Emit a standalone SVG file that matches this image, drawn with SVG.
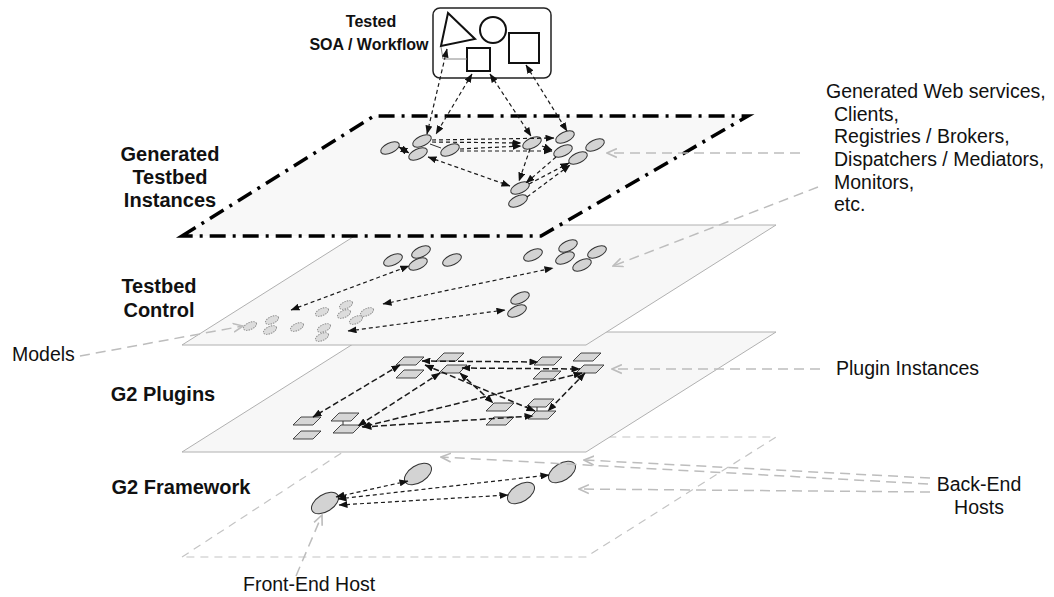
<svg xmlns="http://www.w3.org/2000/svg" xmlns:xlink="http://www.w3.org/1999/xlink" width="1054" height="597" viewBox="0 0 1054 597">
<style>
text{font-family:"Liberation Sans",Arial,sans-serif;fill:#111}
.lb{font-size:20px;font-weight:bold;text-anchor:middle}
.lt{font-size:16px;font-weight:bold;text-anchor:middle}
.tx{font-size:19.5px}
.cn{fill:none;stroke:#1a1a1a;stroke-width:1.2;stroke-dasharray:4,3;marker-start:url(#ab);marker-end:url(#ab)}
.cn1{fill:none;stroke:#1a1a1a;stroke-width:1.2;stroke-dasharray:4,3;marker-end:url(#ab)}
.cp{fill:none;stroke:#1a1a1a;stroke-width:1.5;stroke-dasharray:6,3;marker-start:url(#ab);marker-end:url(#ab)}
.gr{fill:none;stroke:#bdbdbd;stroke-width:1.5;stroke-dasharray:10,6;marker-end:url(#ag)}
.en{fill:#d3d3d3;stroke:#333;stroke-width:1}
.md{fill:#dcdcdc;stroke:#888;stroke-width:0.9;stroke-dasharray:1.5,1}
.pl{fill:#d6d6d6;stroke:#333;stroke-width:0.9}
.sh{fill:none;stroke:#111;stroke-width:2}
</style>
<defs>
<marker id="ab" viewBox="0 0 9 7" refX="8.5" refY="3.5" markerWidth="9" markerHeight="7" markerUnits="userSpaceOnUse" orient="auto-start-reverse"><path d="M0,0 L9,3.5 L0,7 z" fill="#111"/></marker>
<marker id="ag" viewBox="0 0 10 10" refX="9" refY="5" markerWidth="11" markerHeight="11" markerUnits="userSpaceOnUse" orient="auto"><path d="M0,1 L9,5 L0,9" fill="none" stroke="#bdbdbd" stroke-width="1.5"/></marker>
<ellipse id="e1" rx="10" ry="5" transform="rotate(-25)" class="en"/>
<ellipse id="e2" rx="7" ry="3.5" transform="rotate(-25)" class="md"/>
<ellipse id="e4" rx="15" ry="8.5" transform="rotate(-32)" class="en"/>
<polygon id="pp" points="-6,-4 14,-4 6,4 -14,4" class="pl"/>
</defs>

<!-- Layer 4: G2 Framework -->
<g id="layer-framework">
<polygon points="182,557 366,437 776,437 586,557" fill="#fff" stroke="#c4c4c4" stroke-width="1.2" stroke-dasharray="8,6"/>
<text class="lb" x="181" y="494">G2 Framework</text>
</g>
<g id="fw-frontend"><use xlink:href="#e4" x="325" y="503"/></g>
<g id="fw-back1"><use xlink:href="#e4" x="418" y="474"/></g>
<g id="fw-back2"><use xlink:href="#e4" x="562" y="472"/></g>
<g id="fw-back3"><use xlink:href="#e4" x="521" y="493"/></g>

<!-- Layer 3: G2 Plugins -->
<g id="layer-plugins">
<polygon points="182,452 372,332 776,332 586,452" fill="#f7f7f7" stroke="#b0b0b0" stroke-width="1"/>
<text class="lb" x="163" y="401">G2 Plugins</text>
</g>
<g id="pl1"><use xlink:href="#pp" x="410" y="361"/></g>
<g id="pl2"><use xlink:href="#pp" x="450" y="357"/></g>
<g id="pl3"><use xlink:href="#pp" x="410" y="374"/></g>
<g id="pl4"><use xlink:href="#pp" x="453" y="369"/></g>
<g id="pl5"><use xlink:href="#pp" x="548" y="361"/></g>
<g id="pl6"><use xlink:href="#pp" x="587" y="357"/></g>
<g id="pl7"><use xlink:href="#pp" x="547" y="375"/></g>
<g id="pl8"><use xlink:href="#pp" x="590" y="369"/></g>
<g id="pl9"><use xlink:href="#pp" x="500" y="407"/></g>
<g id="pl10"><use xlink:href="#pp" x="540" y="403"/><line x1="537" y1="407" x2="537" y2="411" stroke="#333" stroke-width="1"/></g>
<g id="pl11"><use xlink:href="#pp" x="542" y="415"/></g>
<g id="pl12"><use xlink:href="#pp" x="500" y="421"/></g>
<g id="pl13"><use xlink:href="#pp" x="307" y="421"/></g>
<g id="pl14"><use xlink:href="#pp" x="307" y="435"/></g>
<g id="pl15"><use xlink:href="#pp" x="345" y="417"/><line x1="343" y1="421" x2="343" y2="425" stroke="#333" stroke-width="1"/></g>
<g id="pl16"><use xlink:href="#pp" x="347" y="429"/></g>

<!-- Layer 2: Testbed Control -->
<g id="layer-control">
<polygon points="182,345 372,225 776,225 586,345" fill="#f7f7f7" stroke="#b0b0b0" stroke-width="1"/>
<text class="lb" x="159" y="293">Testbed</text>
<text class="lb" x="159" y="317">Control</text>
</g>
<g id="m1"><use xlink:href="#e2" x="250" y="326"/></g>
<g id="m2"><use xlink:href="#e2" x="272" y="320"/></g>
<g id="m3"><use xlink:href="#e2" x="270" y="330"/></g>
<g id="m4"><use xlink:href="#e2" x="297" y="327"/></g>
<g id="m5"><use xlink:href="#e2" x="322" y="312"/></g>
<g id="m6"><use xlink:href="#e2" x="346" y="305"/></g>
<g id="m7"><use xlink:href="#e2" x="344" y="314"/></g>
<g id="m8"><use xlink:href="#e2" x="356" y="320"/></g>
<g id="m9"><use xlink:href="#e2" x="367" y="312"/></g>
<g id="m10"><use xlink:href="#e2" x="324" y="328"/></g>
<g id="m11"><use xlink:href="#e2" x="322" y="337"/></g>
<g id="c1"><use xlink:href="#e1" x="393" y="260"/></g>
<g id="c2"><use xlink:href="#e1" x="421" y="252"/></g>
<g id="c3"><use xlink:href="#e1" x="418" y="264"/></g>
<g id="c4"><use xlink:href="#e1" x="452" y="260"/></g>
<g id="c5"><use xlink:href="#e1" x="533" y="255"/></g>
<g id="c6"><use xlink:href="#e1" x="568" y="246"/></g>
<g id="c7"><use xlink:href="#e1" x="565" y="258"/></g>
<g id="c8"><use xlink:href="#e1" x="597" y="252"/></g>
<g id="c9"><use xlink:href="#e1" x="582" y="265"/></g>
<g id="c10"><use xlink:href="#e1" x="520" y="298"/></g>
<g id="c11"><use xlink:href="#e1" x="517" y="311"/></g>

<!-- Layer 1: Generated Testbed Instances -->
<g id="layer-generated">
<polygon points="182,236 374,116 748,116 541,236" fill="#f8f8f8" stroke="#000" stroke-width="3.5" stroke-dasharray="16,7,3,7"/>
<text class="lb" x="170" y="161">Generated</text>
<text class="lb" x="170" y="184">Testbed</text>
<text class="lb" x="170" y="207">Instances</text>
</g>
<g id="g-a"><use xlink:href="#e1" x="390" y="148"/></g>
<g id="g-b"><use xlink:href="#e1" x="422" y="141"/></g>
<g id="g-c"><use xlink:href="#e1" x="418" y="154"/></g>
<g id="g-d"><use xlink:href="#e1" x="450" y="150"/></g>
<g id="g-e"><use xlink:href="#e1" x="532" y="143"/></g>
<g id="g-f"><use xlink:href="#e1" x="565" y="137"/></g>
<g id="g-g"><use xlink:href="#e1" x="563" y="151"/></g>
<g id="g-h"><use xlink:href="#e1" x="595" y="145"/></g>
<g id="g-i"><use xlink:href="#e1" x="578" y="158"/></g>
<g id="g-j"><use xlink:href="#e1" x="520" y="188"/></g>
<g id="g-k"><use xlink:href="#e1" x="518" y="201"/></g>

<!-- Tested SOA / Workflow -->
<g id="soa">
<rect x="433" y="8" width="118" height="70" rx="7" fill="#fff" stroke="#222" stroke-width="1.5"/>
<polygon class="sh" points="448,13 475,39 441,46"/>
<circle class="sh" cx="493" cy="30" r="13"/>
<rect class="sh" x="467" y="48" width="23" height="23"/>
<rect class="sh" x="509" y="33" width="30" height="30"/>
<polyline points="441,47 443,59 467,59" fill="none" stroke="#888" stroke-width="1"/>
<text class="lt" x="371" y="27">Tested</text>
<text class="lt" x="369" y="50">SOA / Workflow</text>
</g>

<!-- Connectors -->
<g id="connectors">
<line class="cn" x1="447" y1="49" x2="427" y2="134"/>
<line class="cn" x1="472" y1="74" x2="436" y2="134"/>
<line class="cn" x1="490" y1="74" x2="531" y2="136"/>
<line class="cn" x1="526" y1="65" x2="567" y2="131"/>
<line class="cn" x1="399" y1="147" x2="409" y2="153"/>
<line x1="430" y1="144" x2="441" y2="148" stroke="#333" stroke-width="1"/>
<line class="cn1" x1="432" y1="140" x2="554" y2="138"/>
<line class="cn1" x1="432" y1="142" x2="521" y2="143"/>
<line class="cn1" x1="460" y1="149" x2="521" y2="146"/>
<line class="cn1" x1="460" y1="151" x2="552" y2="151"/>
<line class="cn1" x1="542" y1="146" x2="552" y2="150"/>
<line class="cn" x1="428" y1="157" x2="510" y2="186"/>
<line class="cn1" x1="530" y1="149" x2="519" y2="181"/>
<line class="cn1" x1="556" y1="157" x2="526" y2="183"/>
<line class="cn1" x1="529" y1="184" x2="569" y2="163"/>
<line class="cn1" x1="527" y1="197" x2="570" y2="165"/>
<line class="cn" x1="291" y1="310" x2="409" y2="266"/>
<line class="cn" x1="383" y1="304" x2="553" y2="268"/>
<line class="cn" x1="348" y1="331" x2="505" y2="310"/>
<line class="cp" x1="422" y1="361" x2="538" y2="362"/>
<line class="cp" x1="462" y1="368" x2="580" y2="369"/>
<line class="cp" x1="400" y1="365" x2="313" y2="417"/>
<line class="cp" x1="440" y1="373" x2="358" y2="426"/>
<line class="cp" x1="582" y1="373" x2="362" y2="427"/>
<line class="cp" x1="425" y1="365" x2="535" y2="411"/>
<line class="cp" x1="460" y1="373" x2="493" y2="403"/>
<line class="cp" x1="363" y1="427" x2="533" y2="416"/>
<line class="cp" x1="585" y1="373" x2="548" y2="411"/>
<line class="cn" x1="336" y1="497" x2="408" y2="481"/>
<line class="cn" x1="338" y1="499" x2="549" y2="475"/>
<line class="cn" x1="339" y1="505" x2="508" y2="495"/>
<line class="gr" x1="800" y1="153" x2="607" y2="153"/>
<line class="gr" x1="818" y1="187" x2="613" y2="266"/>
<line class="gr" x1="80" y1="356" x2="243" y2="326"/>
<line class="gr" x1="820" y1="369" x2="612" y2="369"/>
<line class="gr" x1="928" y1="484" x2="441" y2="457"/>
<line class="gr" x1="930" y1="478" x2="584" y2="460"/>
<line class="gr" x1="930" y1="492" x2="579" y2="489"/>
<line class="gr" x1="296" y1="576" x2="322" y2="515"/>
</g>

<!-- Annotations -->
<g id="notes">
<text class="tx" x="826" y="98">Generated Web services,</text>
<text class="tx" x="834" y="121">Clients,</text>
<text class="tx" x="834" y="143">Registries / Brokers,</text>
<text class="tx" x="834" y="166">Dispatchers / Mediators,</text>
<text class="tx" x="834" y="189">Monitors,</text>
<text class="tx" x="834" y="211">etc.</text>
<text class="tx" x="12" y="361">Models</text>
<text class="tx" x="836" y="375">Plugin Instances</text>
<text class="tx" x="979" y="491" text-anchor="middle">Back-End</text>
<text class="tx" x="979" y="514" text-anchor="middle">Hosts</text>
<text class="tx" x="243" y="591">Front-End Host</text>
</g>
</svg>
